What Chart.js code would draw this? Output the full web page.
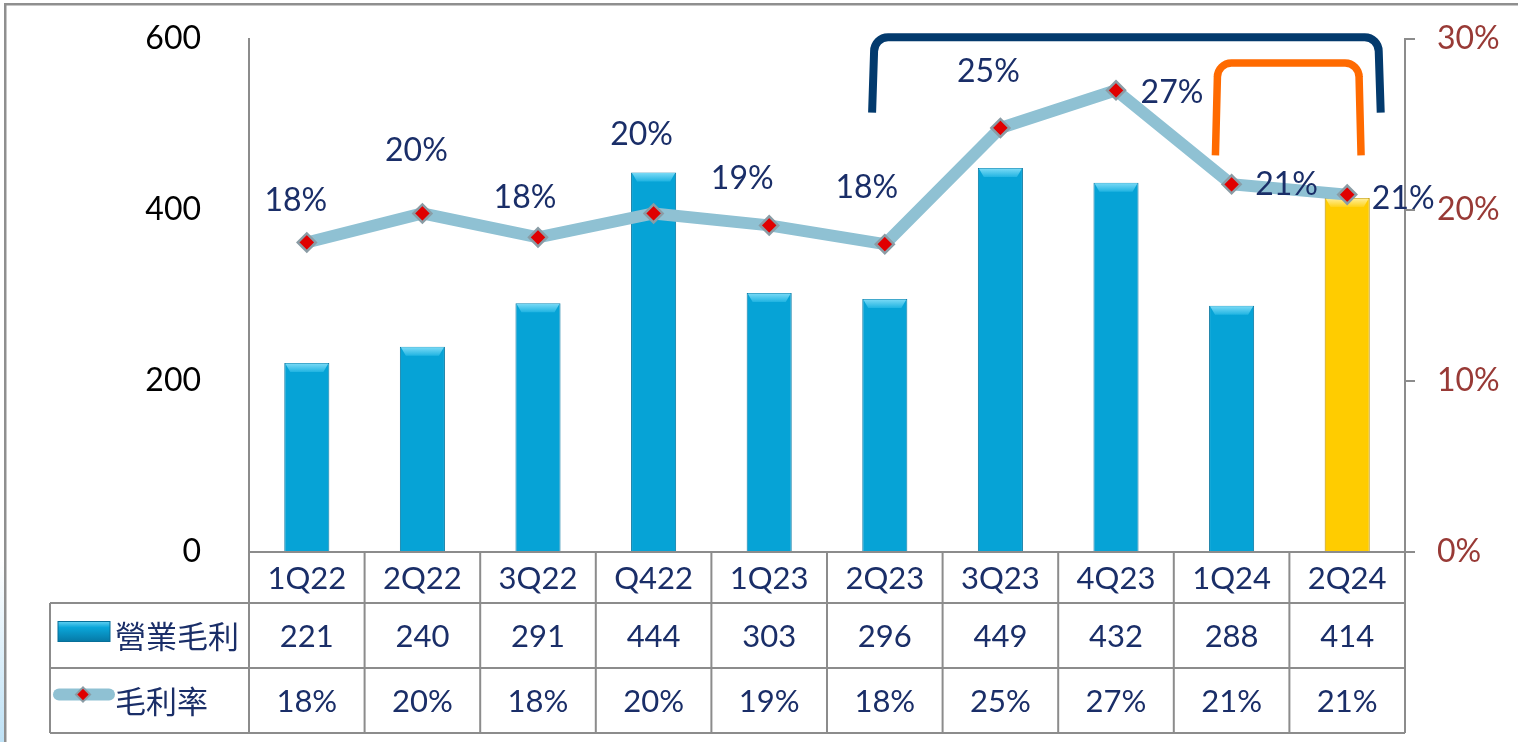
<!DOCTYPE html>
<html>
<head>
<meta charset="utf-8">
<title>營業毛利 / 毛利率</title>
<script src="https://cdn.jsdelivr.net/npm/chart.js@4.4.1/dist/chart.umd.min.js"></script>
<style>
    html, body { margin: 0; padding: 0; background: #fff; overflow: hidden; }
    #wrap { width: 1518px; height: 742px; position: relative; }
</style>
</head>
<body>
<div id="wrap"><canvas id="gpChart" width="1518" height="742"></canvas></div>
<script>
// ── Data ──────────────────────────────────────────────────────────────

const quarters    = ['1Q22', '2Q22', '3Q22', 'Q422', '1Q23', '2Q23', '3Q23', '4Q23', '1Q24', '2Q24'];
const grossProfit = [221, 240, 291, 444, 303, 296, 449, 432, 288, 414];
const grossMargin = [18.1, 19.8, 18.4, 19.8, 19.1, 18.0, 24.8, 27.0, 21.5, 20.9];
const marginText  = ['18%', '20%', '18%', '20%', '19%', '18%', '25%', '27%', '21%', '21%'];
const leftTicks   = [0, 200, 400, 600];
const rightTicks  = [0, 10, 20, 30];

// label placement (dx, dy from the marker), moved by hand in the original
const labelOffsets = [
    [-11, -42], [-6, -63], [-13, -40], [-12, -79], [-27, -47],
    [-18, -57], [-12, -56], [56, 2], [55, 0], [56, 4],
];

const NAVY  = '#1a2e68';
const GRID  = '#8c8c8c';
const FONT  = 'Lato, "Noto Sans", sans-serif';
const CJK   = '"Noto Sans CJK TC", "Noto Sans CJK SC", sans-serif';

// ── Helpers ───────────────────────────────────────────────────────────

function barFill(ctx, yellow) {
    const flat = yellow ? '#ffcc00' : '#06a3d6';
    const chart = ctx.chart;
    const el = ctx.element;
    if (!chart.chartArea || !el || !Number.isFinite(el.x) || !Number.isFinite(el.width)) return flat;
    const half = el.width / 2;
    const g = chart.ctx.createLinearGradient(el.x - half, 0, el.x + half, 0);
    if (yellow) {
        g.addColorStop(0, '#e0aa00');
        g.addColorStop(0.15, '#ffcc00');
        g.addColorStop(0.85, '#ffcc00');
        g.addColorStop(1, '#cf9c00');
    } else {
        g.addColorStop(0, '#0687b6');
        g.addColorStop(0.15, '#07a4d8');
        g.addColorStop(0.85, '#07a4d8');
        g.addColorStop(1, '#067fab');
    }
    return g;
}

function bracket(c, x1, x2, yTop, yBot, r, color, w) {
    c.save();
    c.strokeStyle = color;
    c.lineWidth = w;
    c.lineCap = 'butt';
    c.lineJoin = 'round';
    c.beginPath();
    c.moveTo(x1, yBot);
    c.lineTo(x1 + 2, yTop + r);
    c.arcTo(x1 + 2, yTop, x1 + 2 + r, yTop, r);
    c.lineTo(x2 - 2 - r, yTop);
    c.arcTo(x2 - 2, yTop, x2 - 2, yTop + r, r);
    c.lineTo(x2, yBot);
    c.stroke();
    c.restore();
}

// tick padding otherwise pushes the plot area down; keep only half a label
function trimPadding(s) {
    s.paddingTop = 19;
    s.paddingBottom = 19;
}

// ── Plugins ───────────────────────────────────────────────────────────

const framePlugin = {
    id: 'frame',
    beforeDraw(chart) {
        const c = chart.ctx;
        c.save();
        const g = c.createLinearGradient(0, 560, 0, 742);
        g.addColorStop(0, 'rgba(190,225,245,0)');
        g.addColorStop(1, 'rgba(190,225,245,1)');
        c.fillStyle = g;
        c.fillRect(0, 560, 4, 182);
        c.fillStyle = '#8f8f8f';
        c.fillRect(4, 3, 1514, 2.5);   // top edge
        c.fillRect(4, 3, 2.5, 739);    // left edge
        c.restore();
    },
};

// light bevel along the top of every bar, under the line
const bevelPlugin = {
    id: 'bevel',
    afterDatasetDraw(chart, args) {
        if (args.index !== 0) return;
        const c = chart.ctx;
        c.save();
        args.meta.data.forEach((bar, i) => {
            const yellow = i === quarters.length - 1;
            const half = bar.width / 2;
            const h = 9;
            const g = c.createLinearGradient(0, bar.y, 0, bar.y + h);
            g.addColorStop(0, yellow ? '#fff0a0' : '#7fdcf7');
            g.addColorStop(1, yellow ? '#ffd21a' : '#20b4e2');
            c.fillStyle = g;
            c.beginPath();
            c.moveTo(bar.x - half + 1, bar.y + 0.5);
            c.lineTo(bar.x + half - 1, bar.y + 0.5);
            c.lineTo(bar.x + half - 6, bar.y + h);
            c.lineTo(bar.x - half + 6, bar.y + h);
            c.closePath();
            c.fill();
        });
        c.restore();
    },
};

const labelPlugin = {
    id: 'marginLabels',
    afterDatasetsDraw(chart) {
        const meta = chart.getDatasetMeta(1);
        const c = chart.ctx;
        c.save();
        c.font = '32px ' + FONT;
        c.fillStyle = NAVY;
        c.textAlign = 'center';
        c.textBaseline = 'middle';
        meta.data.forEach((pt, i) => {
            const [dx, dy] = labelOffsets[i];
            c.fillText(marginText[i], pt.x + dx, pt.y + dy);
        });
        c.restore();
    },
};

const bracketPlugin = {
    id: 'brackets',
    afterDatasetsDraw(chart) {
        const x  = chart.scales.x;
        const yR = chart.scales.yR;
        const cw = x.getPixelForValue(1) - x.getPixelForValue(0);
        bracket(chart.ctx,
            x.getPixelForValue(5) - 0.11 * cw, x.getPixelForValue(9) + 0.29 * cw,
            yR.getPixelForValue(30.1), yR.getPixelForValue(25.7), 14, '#033a6d', 8);
        bracket(chart.ctx,
            x.getPixelForValue(8) - 0.14 * cw, x.getPixelForValue(9) + 0.12 * cw,
            yR.getPixelForValue(28.6), yR.getPixelForValue(23.2), 14, '#ff6a00', 7.5);
    },
};

const tablePlugin = {
    id: 'dataTable',
    afterDraw(chart) {
        const c  = chart.ctx;
        const x  = chart.scales.x;
        const yR = chart.scales.yR;
        const area = chart.chartArea;
        const cw = x.getPixelForValue(1) - x.getPixelForValue(0);
        const top    = x.bottom;          // bottom of the quarter row
        const rowH   = 65;
        const bottom = top + rowH * 2;
        const tLeft  = 50;

        c.save();
        c.strokeStyle = GRID;
        c.lineWidth = 2;
        c.beginPath();
        // axis line carried past the right axis
        c.moveTo(area.left, area.bottom);
        c.lineTo(yR.left + 10, area.bottom);
        for (let i = 0; i <= quarters.length; i++) {
            const px = area.left + i * cw;
            c.moveTo(px, area.bottom);
            c.lineTo(px, bottom);
        }
        for (let r = 0; r <= 2; r++) {
            c.moveTo(tLeft, top + r * rowH);
            c.lineTo(area.right, top + r * rowH);
        }
        c.moveTo(tLeft, top);
        c.lineTo(tLeft, bottom);
        c.stroke();

        // values
        c.font = '31px ' + FONT;
        c.fillStyle = NAVY;
        c.textAlign = 'center';
        c.textBaseline = 'middle';
        quarters.forEach((q, i) => {
            const px = x.getPixelForValue(i);
            c.fillText(String(grossProfit[i]), px, top + rowH / 2 + 1);
            c.fillText(marginText[i], px, top + rowH * 1.5 + 1);
        });

        // legend keys
        const y1 = top + rowH / 2;
        const y2 = top + rowH * 1.5;
        const kg = c.createLinearGradient(0, y1 - 14, 0, y1 + 6);
        kg.addColorStop(0, '#5fd0f2');
        kg.addColorStop(0.3, '#0aa6d9');
        kg.addColorStop(1, '#0679a6');
        c.fillStyle = kg;
        c.fillRect(58, y1 - 14, 52, 20);
        c.strokeStyle = '#066f99';
        c.lineWidth = 1;
        c.strokeRect(58, y1 - 14, 52, 20);

        c.strokeStyle = '#8fc1d3';
        c.lineWidth = 12;
        c.lineCap = 'round';
        c.beginPath();
        c.moveTo(59, y2 - 6);
        c.lineTo(109, y2 - 6);
        c.stroke();
        c.translate(83, y2 - 6);
        c.rotate(Math.PI / 4);
        c.fillStyle = '#e00000';
        c.strokeStyle = '#8a9ca5';
        c.lineWidth = 2;
        c.fillRect(-5, -5, 10, 10);
        c.strokeRect(-5, -5, 10, 10);
        c.setTransform(1, 0, 0, 1, 0, 0);

        c.font = '31px ' + CJK;
        c.fillStyle = NAVY;
        c.textAlign = 'left';
        c.fillText('營業毛利', 115, y1 + 1);
        c.fillText('毛利率', 115, y2 + 1);
        c.restore();
    },
};

// ── Chart ─────────────────────────────────────────────────────────────

new Chart(document.getElementById('gpChart'), {
    data: {
        labels: quarters,
        datasets: [
            {
                type: 'bar',
                label: '營業毛利',
                data: grossProfit,
                yAxisID: 'y',
                order: 2,
                backgroundColor: ctx => barFill(ctx, ctx.dataIndex === quarters.length - 1),
                borderColor: ctx => ctx.dataIndex === quarters.length - 1 ? '#b68c00' : '#0b79a3',
                borderWidth: 1,
                barPercentage: 0.39,
                categoryPercentage: 1,
            },
            {
                type: 'line',
                label: '毛利率',
                data: grossMargin,
                yAxisID: 'yR',
                order: 1,
                borderColor: '#8fc1d3',
                borderWidth: 12,
                borderJoinStyle: 'round',
                tension: 0,
                pointStyle: 'rectRot',
                pointRadius: 9,
                pointBackgroundColor: '#e00000',
                pointBorderColor: '#8a9ca5',
                pointBorderWidth: 2.5,
            },
        ],
    },
    options: {
        responsive: false,
        animation: false,
        events: [],
        layout: { padding: { top: 39, bottom: 139, left: 0, right: 0 } },
        plugins: { legend: { display: false }, tooltip: { enabled: false } },
        scales: {
            x: {
                grid: { display: false, drawTicks: false },
                border: { display: true, color: GRID, width: 2 },
                ticks: {
                    color: NAVY,
                    font: { family: FONT, size: 31 },
                    padding: 8,
                    autoSkip: false,
                    maxRotation: 0,
                },
                afterFit: s => { s.height = 51; },
            },
            y: {
                position: 'left',
                min: leftTicks[0],
                max: leftTicks[leftTicks.length - 1],
                afterBuildTicks: s => { s.ticks = leftTicks.map(v => ({ value: v })); },
                grid: { display: false },
                border: { display: true, color: GRID, width: 2 },
                ticks: { color: '#000', font: { family: FONT, size: 32 }, padding: 40 },
                afterFit: s => { s.width = 249; trimPadding(s); },
            },
            yR: {
                position: 'right',
                min: rightTicks[0],
                max: rightTicks[rightTicks.length - 1],
                afterBuildTicks: s => { s.ticks = rightTicks.map(v => ({ value: v })); },
                grid: { drawOnChartArea: false, drawTicks: true, tickLength: 10, color: GRID, lineWidth: 2 },
                border: { display: true, color: GRID, width: 2 },
                ticks: {
                    color: '#983a36',
                    font: { family: FONT, size: 32 },
                    padding: 22,
                    callback: v => v + '%',
                },
                afterFit: s => { s.width = 113; trimPadding(s); },
            },
        },
    },
    plugins: [framePlugin, bevelPlugin, labelPlugin, bracketPlugin, tablePlugin],
});
</script>
</body>
</html>
